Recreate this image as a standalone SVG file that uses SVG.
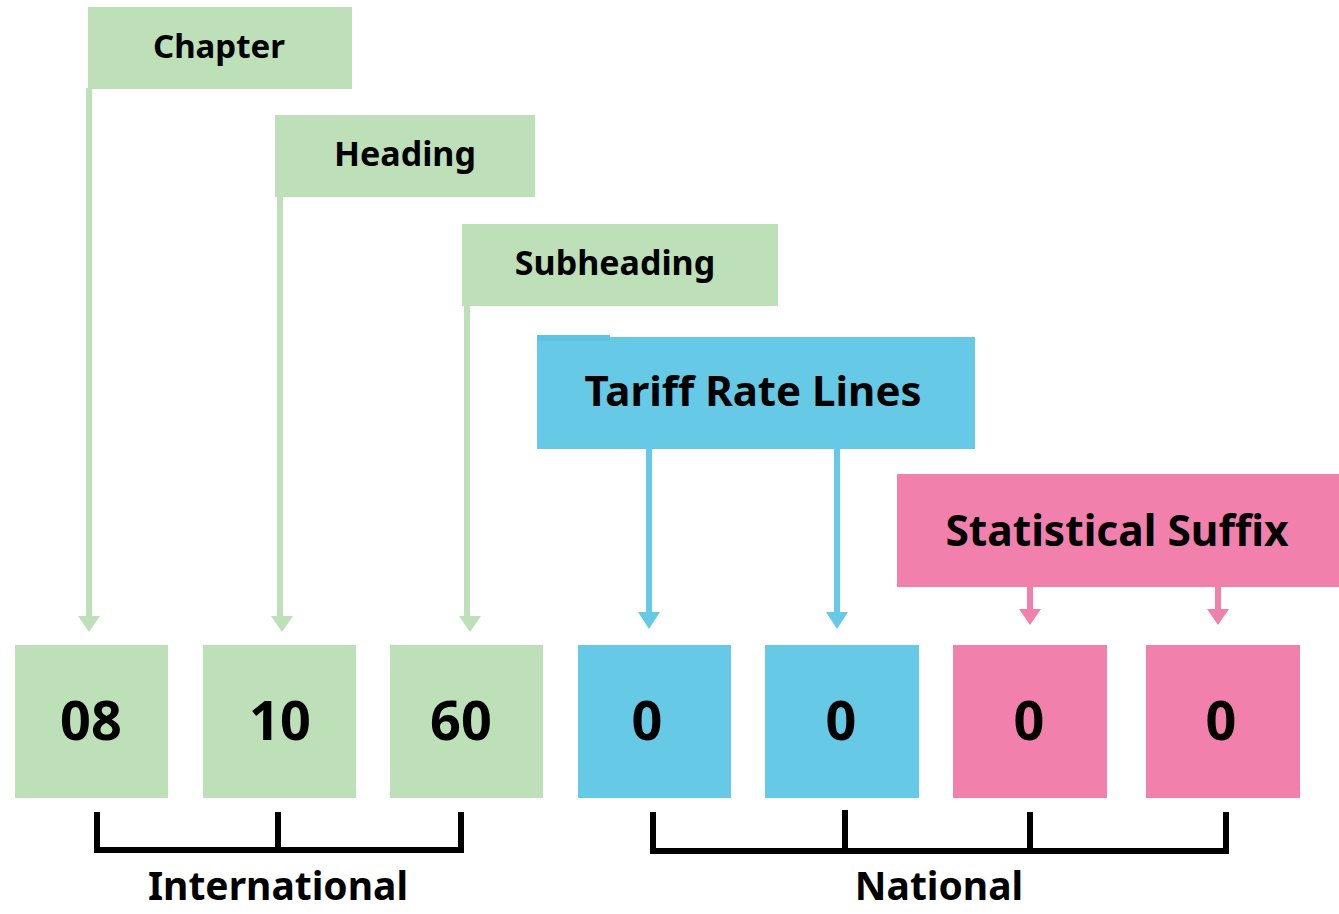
<svg xmlns="http://www.w3.org/2000/svg" width="1339" height="914" viewBox="0 0 1339 914">
<style>
.g{fill:#bde0b8}.b{fill:#66c9e5}.p{fill:#f280ad}
.t{font-family:"Noto Sans","Open Sans",sans-serif;font-weight:bold;fill:#000;text-anchor:middle}
.lg{stroke:#bde0b8;stroke-width:6;fill:none}
.lb{stroke:#66c9e5;stroke-width:6;fill:none}
.lp{stroke:#f280ad;stroke-width:6;fill:none}
.br{stroke:#000;stroke-width:6;fill:none;stroke-linejoin:miter}
</style>
<rect width="1339" height="914" fill="#fff"/>
<g id="connectors">
<path class="lg" d="M89 88V618"/><path class="g" d="M78 616h22l-11 16z"/>
<path class="lg" d="M280 196V618"/><path class="g" d="M271 616h22l-11 16z"/>
<path class="lg" d="M467 305V618"/><path class="g" d="M459 616h22l-11 16z"/>
<path class="lb" d="M649 448V615"/><path class="b" d="M638 612h22l-11 17z"/>
<path class="lb" d="M837 448V615"/><path class="b" d="M826 612h22l-11 17z"/>
<path class="lp" d="M1030 586V612"/><path class="p" d="M1019 609h22l-11 16z"/>
<path class="lp" d="M1218 586V612"/><path class="p" d="M1207 609h22l-11 16z"/>
</g>
<g id="chapter"><rect class="g" x="88" y="7" width="264" height="82"/><text class="t" x="219" y="58" font-size="33">Chapter</text></g>
<g id="heading"><rect class="g" x="275" y="115" width="260" height="82"/><text class="t" x="405" y="166" font-size="34">Heading</text></g>
<g id="subheading"><rect class="g" x="462" y="224" width="316" height="82"/><text class="t" x="615" y="275" font-size="34">Subheading</text></g>
<g id="tariff"><rect class="b" x="537" y="337" width="438" height="112"/><rect x="537" y="335" width="73" height="6" fill="#5ec3e0"/><text class="t" x="753" y="406" font-size="42">Tariff Rate Lines</text></g>
<g id="suffix"><rect class="p" x="897" y="474" width="442" height="113"/><text class="t" x="1117" y="546" font-size="42.5">Statistical Suffix</text></g>
<g id="d1"><rect class="g" x="15" y="645" width="153" height="153"/><text class="t" x="91" y="740" font-size="54">08</text></g>
<g id="d2"><rect class="g" x="203" y="645" width="153" height="153"/><text class="t" x="280" y="740" font-size="54">10</text></g>
<g id="d3"><rect class="g" x="390" y="645" width="153" height="153"/><text class="t" x="461" y="740" font-size="54">60</text></g>
<g id="d4"><rect class="b" x="578" y="645" width="153" height="153"/><text class="t" x="647" y="740" font-size="54">0</text></g>
<g id="d5"><rect class="b" x="765" y="645" width="154" height="153"/><text class="t" x="841" y="740" font-size="54">0</text></g>
<g id="d6"><rect class="p" x="953" y="645" width="154" height="153"/><text class="t" x="1029" y="740" font-size="54">0</text></g>
<g id="d7"><rect class="p" x="1146" y="645" width="154" height="153"/><text class="t" x="1221" y="740" font-size="54">0</text></g>
<g id="brackets">
<path class="br" d="M97 812V850H461V812M278 812V850"/>
<path class="br" d="M653 812V851H1226V812M845 810V851M1030 812V851"/>
</g>
<g id="labels">
<text class="t" x="278" y="900" font-size="39">International</text>
<text class="t" x="939" y="900" font-size="39">National</text>
</g>
</svg>
